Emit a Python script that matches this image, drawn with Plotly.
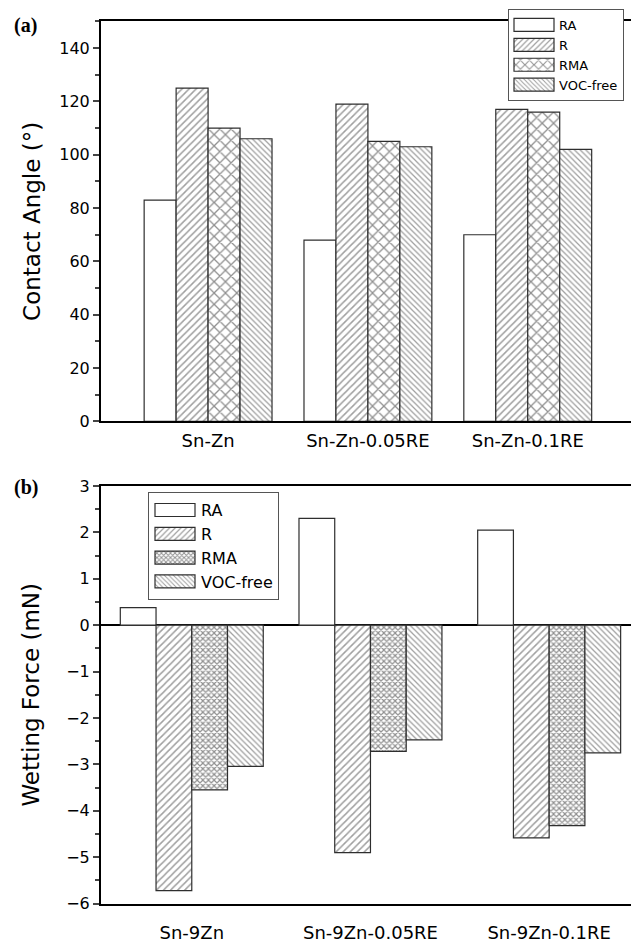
import plotly.graph_objects as go
from plotly.subplots import make_subplots

# (a) contact angle of the solders with each flux
alloys_a = ["Sn-Zn", "Sn-Zn-0.05RE", "Sn-Zn-0.1RE"]
angle_ra = [83, 68, 70]
angle_r = [125, 119, 117]
angle_rma = [110, 105, 116]
angle_voc = [106, 103, 102]

# (b) wetting force of the solders with each flux
alloys_b = ["Sn-9Zn", "Sn-9Zn-0.05RE", "Sn-9Zn-0.1RE"]
force_ra = [0.38, 2.30, 2.05]
force_r = [-5.72, -4.90, -4.58]
force_rma = [-3.55, -2.72, -4.32]
force_voc = [-3.04, -2.47, -2.75]

flux_names = ["RA", "R", "RMA", "VOC-free"]

W, H = 631, 947
FONT = "DejaVu Sans"
EDGE = "#2e2e2e"
HATCH = "#404040"

fig = make_subplots(rows=2, cols=1)


def pattern(kind, small=False):
    if kind == "RA":
        return dict(shape="")
    if kind == "R":
        return dict(shape="/", size=5, solidity=0.3, fgcolor=HATCH, bgcolor="white")
    if kind == "RMA":
        if small:
            return dict(shape="x", size=4, solidity=0.5, fgcolor="#222", bgcolor="white")
        return dict(shape="x", size=8, solidity=0.3, fgcolor="#222", bgcolor="white")
    return dict(shape="\\", size=4, solidity=0.32, fgcolor=HATCH, bgcolor="white")


series_a = [angle_ra, angle_r, angle_rma, angle_voc]
series_b = [force_ra, force_r, force_rma, force_voc]

for name, vals in zip(flux_names, series_a):
    fig.add_trace(go.Bar(
        x=alloys_a, y=vals, name=name, legend="legend",
        marker=dict(color="white", line=dict(color=EDGE, width=1.2),
                    pattern=pattern(name)),
    ), row=1, col=1)

for name, vals in zip(flux_names, series_b):
    fig.add_trace(go.Bar(
        x=alloys_b, y=vals, name=name, legend="legend2",
        marker=dict(color="white", line=dict(color=EDGE, width=1.2),
                    pattern=pattern(name, small=True)),
    ), row=2, col=1)

x0 = 101 / W
axis_common = dict(showline=True, linecolor="black", linewidth=2,
                   showgrid=False, zeroline=False)

fig.update_layout(
    width=W, height=H,
    margin=dict(l=0, r=0, t=0, b=0),
    paper_bgcolor="white", plot_bgcolor="white",
    barmode="group", bargap=0.2, bargroupgap=0,
    font=dict(family=FONT, color="black", size=16),
    xaxis=dict(domain=[x0, 1], range=[-0.67, 2.646], mirror=True, ticks="",
               tickfont=dict(size=18), ticklabelstandoff=2, **axis_common),
    yaxis=dict(domain=[1 - 420.8 / H, 1 - 12.7 / H], range=[0, 150],
               tickmode="linear", tick0=0, dtick=20, ticks="outside", ticklen=6,
               tickwidth=1.5, tickfont=dict(size=16),
               minor=dict(ticks="outside", ticklen=4, dtick=10, tickwidth=1.5),
               title=dict(text="Contact Angle (°)", font=dict(size=23), standoff=12),
               **axis_common),
    xaxis2=dict(domain=[x0, 1], range=[-0.508, 2.458], mirror=True, ticks="",
                tickfont=dict(size=18), ticklabelstandoff=12, **axis_common),
    yaxis2=dict(domain=[1 - 913 / H, 1 - 486.7 / H], range=[-6, 3],
                tickmode="linear", tick0=0, dtick=1, ticks="outside", ticklen=6,
                tickwidth=1.5, tickfont=dict(size=16),
                minor=dict(ticks="outside", ticklen=4, dtick=0.5, tickwidth=1.5),
                title=dict(text="Wetting Force (mN)", font=dict(size=23), standoff=20),
                showline=True, linecolor="black", linewidth=2, showgrid=False,
                zeroline=True, zerolinecolor="black", zerolinewidth=1.5),
    legend=dict(x=508 / W, y=1.0, xanchor="left", yanchor="top",
                bordercolor="#555", borderwidth=1, bgcolor="white",
                font=dict(size=13), itemwidth=40, tracegroupgap=0,
                traceorder="normal"),
    legend2=dict(x=148 / W, y=1 - 493 / H, xanchor="left", yanchor="top",
                 bordercolor="#555", borderwidth=1, bgcolor="white",
                 font=dict(size=16), itemwidth=42, tracegroupgap=0,
                 traceorder="normal"),
)

fig.add_annotation(text="<b>(a)</b>", x=12 / W, y=1 - 17 / H, xref="paper", yref="paper",
                   xanchor="left", yanchor="middle", showarrow=False,
                   font=dict(family="Liberation Serif", size=20))
fig.add_annotation(text="<b>(b)</b>", x=12 / W, y=1 - 488 / H, xref="paper", yref="paper",
                   xanchor="left", yanchor="middle", showarrow=False,
                   font=dict(family="Liberation Serif", size=20))

# widen the legend swatches into flat rectangles
post = """
var gd = document.getElementsByClassName('plotly-graph-div')[0];
gd.querySelectorAll('.legendpoints path').forEach(function(p){
  p.setAttribute('d', 'M20,6.5H-20V-6.5H20Z');
});
"""

fig.write_html("out.html", post_script=post)
